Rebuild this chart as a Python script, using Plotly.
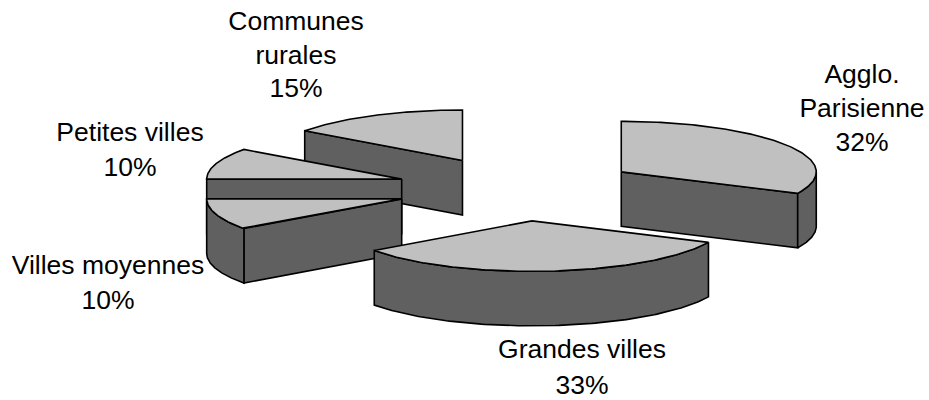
import numpy as np
import plotly.graph_objects as go

# Data
names = ["Agglo. Parisienne", "Grandes villes", "Villes moyennes", "Petites villes", "Communes rurales"]
values = [32, 33, 10, 10, 15]
label_lines = [["Agglo.", "Parisienne"], ["Grandes villes"], ["Villes moyennes"], ["Petites villes"], ["Communes", "rurales"]]

# Layout of the projected pie (pixels)
CX, CY = 518.0, 189.0
RX, RY = 195.0, 50.5
EX, EY = 122.3, 32.0
DEPTH = 54.5
TOP = "#c0c0c0"
WALL = "#606060"
LINE = dict(color="black", width=1.6)
FONT = dict(family="Liberation Sans, Arial, sans-serif", size=26.5, color="black")
label_x = [862, 582, 108, 130, 296]
label_y = [76.5, 351.5, 267.5, 134.5, 23.5]
label_step = [34, 36, 35, 35, 33.5]
slice_nudge_x = [0, 2.5, 0, 0, 0]
draw_order = [4, 3, 0, 2, 1]

fig = go.Figure()


def poly(xs, ys, color):
    fig.add_trace(go.Scatter(x=list(xs), y=list(ys), mode="lines", fill="toself",
                             fillcolor=color, line=LINE, hoverinfo="skip", showlegend=False))


total = sum(values)
edges = np.concatenate([[0], np.cumsum(values)]) / total * 2 * np.pi

for i in draw_order:
    t0, t1 = edges[i], edges[i + 1]
    mid = (t0 + t1) / 2
    CXi = CX + EX * np.sin(mid) + slice_nudge_x[i]
    CYi = CY - EY * np.cos(mid)

    def ell(t):
        return CXi + RX * np.sin(t), CYi - RY * np.cos(t)

    ts = np.linspace(t0, t1, 120)
    ax, ay = ell(ts)

    # visible radial faces
    for t, normal in ((t0, t0 - np.pi / 2), (t1, t1 + np.pi / 2)):
        if np.cos(normal) < -1e-6:
            px, py = ell(t)
            poly([CXi, px, px, CXi, CXi], [CYi, py, py + DEPTH, CYi + DEPTH, CYi], WALL)

    # visible outer wall
    lo, hi = max(t0, np.pi / 2), min(t1, 3 * np.pi / 2)
    if hi > lo:
        tw = np.linspace(lo, hi, 120)
        wx, wy = ell(tw)
        poly(np.concatenate([wx, wx[::-1], wx[:1]]),
             np.concatenate([wy, wy[::-1] + DEPTH, wy[:1]]), WALL)

    # top surface
    poly(np.concatenate([[CXi], ax, [CXi]]), np.concatenate([[CYi], ay, [CYi]]), TOP)

# Labels
for i, lines in enumerate(label_lines):
    texts = lines + [f"{values[i]}%"]
    fig.add_trace(go.Scatter(
        x=[label_x[i]] * len(texts),
        y=[label_y[i] + k * label_step[i] for k in range(len(texts))],
        text=texts, mode="text", textposition="middle center", textfont=FONT,
        hoverinfo="skip", showlegend=False, name=names[i], cliponaxis=False))

fig.update_layout(
    width=929, height=400, margin=dict(l=0, r=0, t=0, b=0),
    paper_bgcolor="white", plot_bgcolor="white", showlegend=False,
    xaxis=dict(range=[0, 929], visible=False, fixedrange=True),
    yaxis=dict(range=[400, 0], visible=False, fixedrange=True),
)
fig.write_html("out.html", config={"displayModeBar": False},
               post_script="document.body.style.margin='0';document.body.style.overflow='hidden';")
